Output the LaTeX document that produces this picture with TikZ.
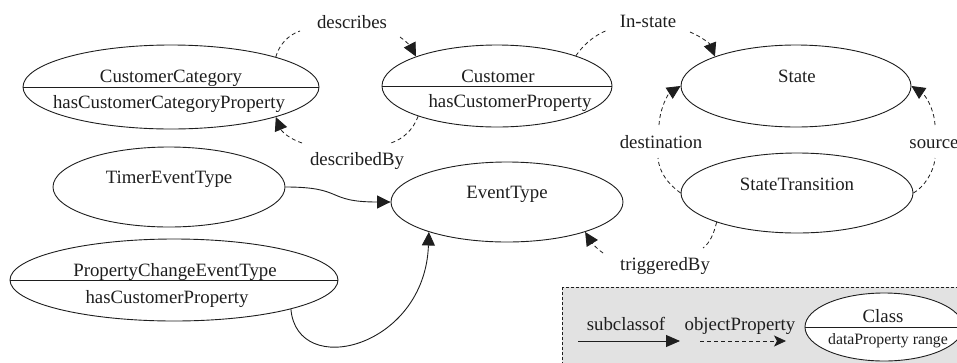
\documentclass[tikz,border=0pt]{standalone}
\usepackage{fontspec}
\setmainfont{Liberation Serif}
\usetikzlibrary{arrows.meta,shapes.geometric}
\definecolor{legendgray}{RGB}{226,226,226}
\definecolor{ink}{RGB}{30,30,30}
\begin{document}
\begin{tikzpicture}[x=1pt,y=-1pt,
  every node/.style={font=\fontsize{18.8}{22}\selectfont},
  cls/.style={draw=ink,ellipse,line width=0.9pt,inner sep=0pt,fill=white},
  txt/.style={anchor=base,inner sep=0pt,text=ink},
  rel/.style={draw=ink,line width=0.8pt,dash pattern=on 4pt off 3pt,-{Triangle[length=13.5pt,width=13pt]}},
  relplain/.style={draw=ink,line width=0.8pt,dash pattern=on 4pt off 3pt},
  sub/.style={draw=ink,line width=0.9pt,-{Triangle[length=13.5pt,width=13pt]}}
]
\path[use as bounding box] (0,0) rectangle (957,362);
\clip (0,0) rectangle (957,362);

% legend box
\draw[draw=ink,fill=legendgray,line width=0.7pt,dash pattern=on 3pt off 2pt] (562,287) rectangle (965,370);

% classes
\node[cls,minimum width=296pt,minimum height=84pt] (cc) at (171,87) {};
\draw[ink,line width=0.9pt] (cc.west) -- (cc.east);
\node[txt] (ccT1) at (171,82) {CustomerCategory};
\node[txt] (ccT2) at (169,108) {hasCustomerCategoryProperty};

\node[cls,minimum width=230pt,minimum height=82pt] (cust) at (497,86) {};
\draw[ink,line width=0.9pt] (cust.west) -- (cust.east);
\node[txt] (custT1) at (498,82) {Customer};
\node[txt] (custT2) at (510,107) {hasCustomerProperty};

\node[cls,minimum width=230pt,minimum height=82pt] (state) at (796,86) {};
\node[txt] (stateT) at (797,82) {State};

\node[cls,minimum width=232pt,minimum height=80pt] (timer) at (169,187) {};
\node[txt] (timerT) at (169,183) {TimerEventType};

\node[cls,minimum width=232pt,minimum height=80pt] (et) at (507,202) {};
\node[txt] (etT) at (507,198) {EventType};

\node[cls,minimum width=232pt,minimum height=80pt] (st) at (797,193) {};
\node[txt] (stT) at (797,190) {StateTransition};

\node[cls,minimum width=328pt,minimum height=82pt] (pcet) at (174,280) {};
\draw[ink,line width=0.9pt] (pcet.west) -- (pcet.east);
\node[txt] (pcetT1) at (175,276) {PropertyChangeEventType};
\node[txt] (pcetT2) at (167,303) {hasCustomerProperty};

% relation labels
\node[txt] (descL) at (352,28) {describes};
\node[txt] (dbyL) at (357,165) {describedBy};
\node[txt] (instL) at (648,27) {In-state};
\node[txt] (destL) at (661,148) {destination};
\node[txt] (srcL) at (934,148) {source};
\node[txt] (trigL) at (665,270) {triggeredBy};

% free ends near the labels
\coordinate (d1) at (300,31);  \coordinate (d2) at (400,37);
\coordinate (b1) at (391,143); \coordinate (b2) at (302,143);
\coordinate (i1) at (608,30);  \coordinate (i2) at (690,32);
\coordinate (e1) at (658,158); \coordinate (e2) at (659,125);
\coordinate (s1) at (935,158); \coordinate (s2) at (935,125);
\coordinate (t1) at (703,248); \coordinate (t2) at (603,253);

% describes
\draw[relplain] (cc.16) .. controls (279,45) and (288,35) .. (d1);
\draw[rel] (d2) .. controls (406,41) and (411,47) .. (cust.160);
% describedBy
\draw[relplain] (cust.201) .. controls (413,130) and (403,139) .. (b1);
\draw[rel] (b2) .. controls (290,139) and (282,132) .. (cc.-16);
% In-state
\draw[relplain] (cust.21) .. controls (582,47) and (592,36) .. (i1);
\draw[rel] (i2) .. controls (702,37) and (710,44) .. (state.160);
% destination
\draw[relplain] (st.180) .. controls (668,184) and (659,172) .. (e1);
\draw[rel] (e2) .. controls (660,108) and (668,94) .. (state.180);
% source
\draw[relplain] (st.0) .. controls (924,187) and (934,172) .. (s1);
\draw[rel] (s2) .. controls (934,108) and (925,95) .. (state.0);
% triggeredBy
\draw[relplain] (st.200) .. controls (714,233) and (710,243) .. (t1);
\draw[rel] (t2) .. controls (597,249) and (592,243) .. (et.-21);

% subclass edges
\draw[sub] (timer.0) .. controls (345,187) and (325,202) .. (et.180);
\draw[sub] (pcet.-14) .. controls (297,380) and (425,348) .. (et.201);

% legend content
\coordinate (la1) at (578,341); \coordinate (la2) at (680,341);
\coordinate (lb1) at (700,341); \coordinate (lb2) at (786,341);
\draw[draw=ink,line width=0.9pt,-{Triangle[length=14pt,width=12pt]}] (la1) -- (la2);
\draw[draw=ink,line width=0.8pt,dash pattern=on 4pt off 3pt,-{Stealth[length=12pt,width=11pt,inset=3pt]}] (lb1) -- (lb2);
\node[txt] (subL) at (626,330) {subclassof};
\node[txt] (objL) at (740,330) {objectProperty};
\node[cls,minimum width=158pt,minimum height=68pt] (cls) at (884,327) {};
\draw[ink,line width=0.9pt] (cls.west) -- (cls.east);
\node[txt] (clsT1) at (883,322) {Class};
\node[txt,font=\fontsize{15.8}{18}\selectfont] (clsT2) at (888,344) {dataProperty range};
\end{tikzpicture}
\end{document}
